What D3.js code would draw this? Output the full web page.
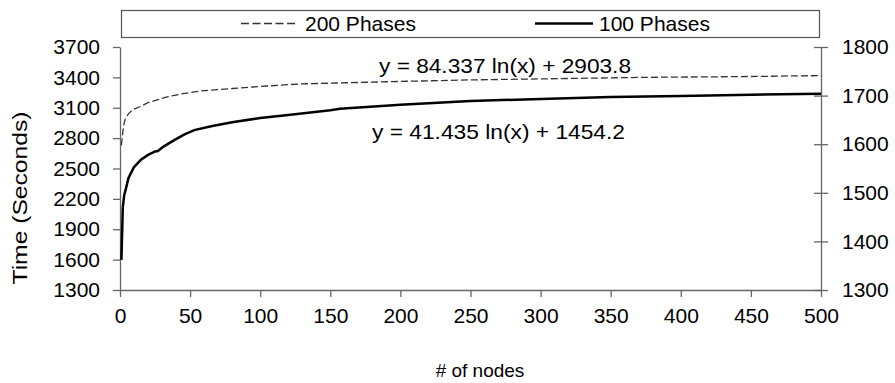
<!DOCTYPE html>
<html>
<head>
<style>
html, body { margin: 0; padding: 0; background: #fff; }
svg { display: block; font-family: "Liberation Sans", Arial, sans-serif; }
</style>
</head>
<body>
<svg width="895" height="383"></svg>
<script src="https://cdn.jsdelivr.net/npm/d3@7/dist/d3.min.js"></script>
<script>
// values
var nodes200 = [1, 2, 3, 4, 6, 9, 14, 20, 27, 33, 45, 57, 70, 80, 95, 105, 128, 157, 200, 250, 300, 350, 371, 420, 460, 480, 500];
var time200  = [2730, 2860, 2950, 3000, 3040, 3080, 3110, 3150, 3180, 3205, 3240, 3265, 3280, 3290, 3305, 3315, 3335, 3345, 3360, 3375, 3385, 3395, 3400, 3405, 3410, 3415, 3417];

var nodes100 = [1, 2, 3, 4, 6, 10, 15, 20, 25, 27, 31, 39, 46, 53, 65, 80, 100, 120, 150, 157, 200, 250, 300, 350, 400, 450, 500];
var time100  = [1362, 1470, 1495, 1506, 1530, 1553, 1568, 1578, 1585, 1586, 1595, 1609, 1620, 1629, 1637, 1645, 1654, 1660, 1670, 1673, 1681, 1689, 1693, 1697, 1699, 1702, 1704];

var xTicks = [0, 50, 100, 150, 200, 250, 300, 350, 400, 450, 500];
var leftTicks = [1300, 1600, 1900, 2200, 2500, 2800, 3100, 3400, 3700];
var rightTicks = [1300, 1400, 1500, 1600, 1700, 1800];

var svg = d3.select("svg");
var plotLeft = 120, plotRight = 821, plotTop = 47, plotBottom = 290;
var axisColor = "#666";

var x = d3.scaleLinear().domain([0, 500]).range([plotLeft, plotRight]);
var yL = d3.scaleLinear().domain([1300, 3700]).range([plotBottom, plotTop]);
var yR = d3.scaleLinear().domain([1300, 1800]).range([plotBottom, plotTop]);

function styleAxis(g) {
    g.select(".domain").attr("stroke", axisColor).attr("stroke-width", 1.3);
    g.selectAll(".tick line").attr("stroke", axisColor).attr("stroke-width", 1.3);
    g.selectAll(".tick text").attr("fill", "#000").style("font-size", "21px")
        .style("font-family", "'Liberation Sans', Arial, sans-serif");
}

// bottom axis
svg.append("g")
    .attr("transform", "translate(0," + plotBottom + ")")
    .call(d3.axisBottom(x).tickValues(xTicks).tickSizeInner(7).tickSizeOuter(0).tickPadding(11))
    .call(styleAxis);

// left axis
svg.append("g")
    .attr("transform", "translate(" + plotLeft + ",0)")
    .call(d3.axisLeft(yL).tickValues(leftTicks).tickFormat(d3.format("d")).tickSizeInner(7).tickSizeOuter(0).tickPadding(13))
    .call(styleAxis);

// right axis, ticks cross the line
var gR = svg.append("g")
    .attr("transform", "translate(" + plotRight + ",0)")
    .call(d3.axisRight(yR).tickValues(rightTicks).tickFormat(d3.format("d")).tickSizeInner(7).tickSizeOuter(0).tickPadding(14))
    .call(styleAxis);
gR.selectAll(".tick line").attr("x1", -7);

// lines
var line200 = d3.line()
    .x(function(d, i){ return x(nodes200[i]) })
    .y(function(d){ return yL(d) });
var line100 = d3.line()
    .x(function(d, i){ return x(nodes100[i]) })
    .y(function(d){ return yR(d) });

svg.append("path")
    .attr("d", line200(time200))
    .attr("fill", "none")
    .attr("stroke", "#333")
    .attr("stroke-width", 1.3)
    .attr("stroke-dasharray", "7,3");

svg.append("path")
    .attr("d", line100(time100))
    .attr("fill", "none")
    .attr("stroke", "#000")
    .attr("stroke-width", 2.5);

// trend equations
svg.append("text")
    .attr("x", 379).attr("y", 73)
    .attr("textLength", 252).attr("lengthAdjust", "spacingAndGlyphs")
    .style("font-size", "21px")
    .text("y = 84.337 ln(x) + 2903.8");
svg.append("text")
    .attr("x", 372).attr("y", 139)
    .attr("textLength", 253).attr("lengthAdjust", "spacingAndGlyphs")
    .style("font-size", "21px")
    .text("y = 41.435 ln(x) + 1454.2");

// axis titles
svg.append("text")
    .attr("transform", "translate(27,198) rotate(-90)")
    .attr("text-anchor", "middle")
    .attr("textLength", 173).attr("lengthAdjust", "spacingAndGlyphs")
    .style("font-size", "20px")
    .text("Time (Seconds)");
svg.append("text")
    .attr("x", 480).attr("y", 377)
    .attr("text-anchor", "middle")
    .style("font-size", "19px")
    .text("# of nodes");

// legend
var legend = svg.append("g");
legend.append("rect")
    .attr("x", 121.5).attr("y", 10.5).attr("width", 698).attr("height", 27)
    .attr("fill", "#fff").attr("stroke", "#555").attr("stroke-width", 1.2);
legend.append("line")
    .attr("x1", 241).attr("x2", 297).attr("y1", 23.5).attr("y2", 23.5)
    .attr("stroke", "#333").attr("stroke-width", 1.3).attr("stroke-dasharray", "8,3.5");
legend.append("text").attr("x", 305).attr("y", 31).style("font-size", "21px").text("200 Phases");
legend.append("line")
    .attr("x1", 535).attr("x2", 593).attr("y1", 23.5).attr("y2", 23.5)
    .attr("stroke", "#000").attr("stroke-width", 2.5);
legend.append("text").attr("x", 599).attr("y", 31).style("font-size", "21px").text("100 Phases");
</script>
</body>
</html>
